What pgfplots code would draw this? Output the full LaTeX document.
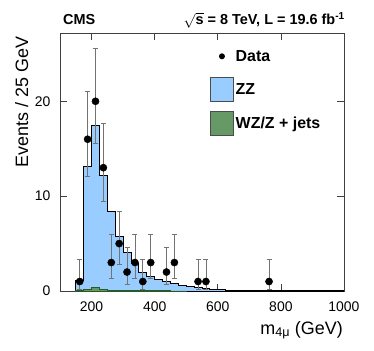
\documentclass[border=0pt]{standalone}
\usepackage{pgfplots}
\pgfplotsset{compat=1.18}
\usepackage{fontspec}
\setmainfont{Liberation Sans}
\definecolor{zzblue}{RGB}{153,204,255}
\definecolor{zjgreen}{RGB}{102,153,102}
\definecolor{zjdark}{RGB}{40,90,40}
\begin{document}
\begin{tikzpicture}
\path[use as bounding box] (-60bp,-60bp) rectangle (314bp,291bp);
\begin{axis}[
  scale only axis, width=284bp, height=258bp,
  at={(0,0)}, anchor=south west,
  xmin=100, xmax=1000, ymin=0, ymax=27.2,
  xtick={200,400,600,800,1000}, ytick={0,10,20},
  minor tick num=0,
  tick align=inside, major tick length=7bp,
  axis line style={black!75, line width=0.8bp},
  every tick/.style={black!75, line width=0.6bp},
  ticklabel style={font=\fontsize{14}{16}\selectfont},
  /pgf/number format/assume math mode=true,
  /pgf/number format/1000 sep={},
  xticklabel style={yshift=-7bp},
  yticklabel style={xshift=-6bp},
  legend style={at={(0.528,0.957)}, anchor=north west, draw=none, fill=none,
    font=\bfseries\fontsize{16}{18}\selectfont, row sep=9bp,
    inner sep=0pt},
  legend cell align=left,
]
\addlegendimage{legend image code/.code={\path[draw=none, fill=none] (0bp,-12bp) rectangle (23bp,12bp); \fill[black, draw=none] (11.5bp,0bp) circle (3bp);}}
\addlegendentry{Data}
\addlegendimage{legend image code/.code={\draw[fill=zzblue, draw=black!70, line width=0.6bp] (0bp,-12bp) rectangle (23bp,12bp);}}
\addlegendentry{ZZ}
\addlegendimage{legend image code/.code={\draw[fill=zjgreen, draw=black!70, line width=0.6bp] (0bp,-12bp) rectangle (23bp,12bp);}}
\addlegendentry{WZ/Z + jets}
% ZZ (total stack)
\addplot[forget plot, const plot, fill=zzblue, draw=black, line width=0.9bp]
coordinates {
(150,1.1) (175,13.1) (200,17.5) (225,12.2) (250,8.35) (275,5.7) (300,4.07)
(325,2.95) (350,1.95) (375,1.55) (400,1.23) (425,0.98) (450,0.77) (475,0.58)
(500,0.44) (525,0.33) (550,0.25) (575,0.19) (600,0.14) (625,0.10) (650,0.08)
(675,0.06) (700,0.05) (725,0.04) (750,0.03) (775,0.02) (800,0.02) (825,0.015)
(850,0.012) (875,0.01) (900,0.01) (925,0.01) (950,0.01) (975,0.01) (1000,0.01)
} \closedcycle;
% WZ/Z + jets
\addplot[forget plot, const plot, fill=zjgreen, draw=zjdark, line width=0.6bp]
coordinates {
(150,0.12) (175,0.2) (200,0.38) (225,0.15) (250,0.08) (275,0.08) (300,0.1)
(325,0.08) (350,0.06) (375,0.05) (400,0.04) (425,0.03) (450,0.02) (475,0.02) (500,0.02)
} \closedcycle;
% Data
\addplot[forget plot, only marks, mark=*, mark size=3.6bp, black,
  error bars/.cd, y dir=both, y explicit,
  error bar style={black!55, line width=0.8bp},
  error mark=-,
  error mark options={rotate=90, black!55, mark size=2.5bp, line width=0.8bp}]
coordinates {
(162.5,1) += (0,2.30) -= (0,0.83)
(187.5,16) += (0,5.09) -= (0,3.95)
(212.5,20) += (0,5.56) -= (0,4.43)
(237.5,13) += (0,4.71) -= (0,3.56)
(262.5,3) += (0,2.92) -= (0,1.63)
(287.5,5) += (0,3.38) -= (0,2.16)
(312.5,2) += (0,2.64) -= (0,1.29)
(337.5,3) += (0,2.92) -= (0,1.63)
(362.5,1) += (0,2.30) -= (0,0.83)
(387.5,3) += (0,2.92) -= (0,1.63)
(437.5,2) += (0,2.64) -= (0,1.29)
(462.5,3) += (0,2.92) -= (0,1.63)
(537.5,1) += (0,2.30) -= (0,0.83)
(562.5,1) += (0,2.30) -= (0,0.83)
(762.5,1) += (0,2.30) -= (0,0.83)
};
\end{axis}
\node[rotate=90, anchor=base east, font=\fontsize{18}{20}\selectfont] at (-32bp,258bp) {Events / 25 GeV};
\node[anchor=base west, font=\bfseries\fontsize{14.5}{16}\selectfont, inner sep=0pt] at (3bp,266bp) {CMS};
\node[anchor=base east, font=\bfseries\fontsize{14.5}{16}\selectfont, inner sep=0pt] at (285bp,266bp) {$\sqrt{\mbox{s}}$ = 8 TeV, L = 19.6 fb\textsuperscript{-1}};
\node[anchor=base east, font=\fontsize{18}{20}\selectfont, inner sep=0pt] at (283bp,-43bp) {m\textsubscript{4μ} (GeV)};
\end{tikzpicture}
\end{document}
